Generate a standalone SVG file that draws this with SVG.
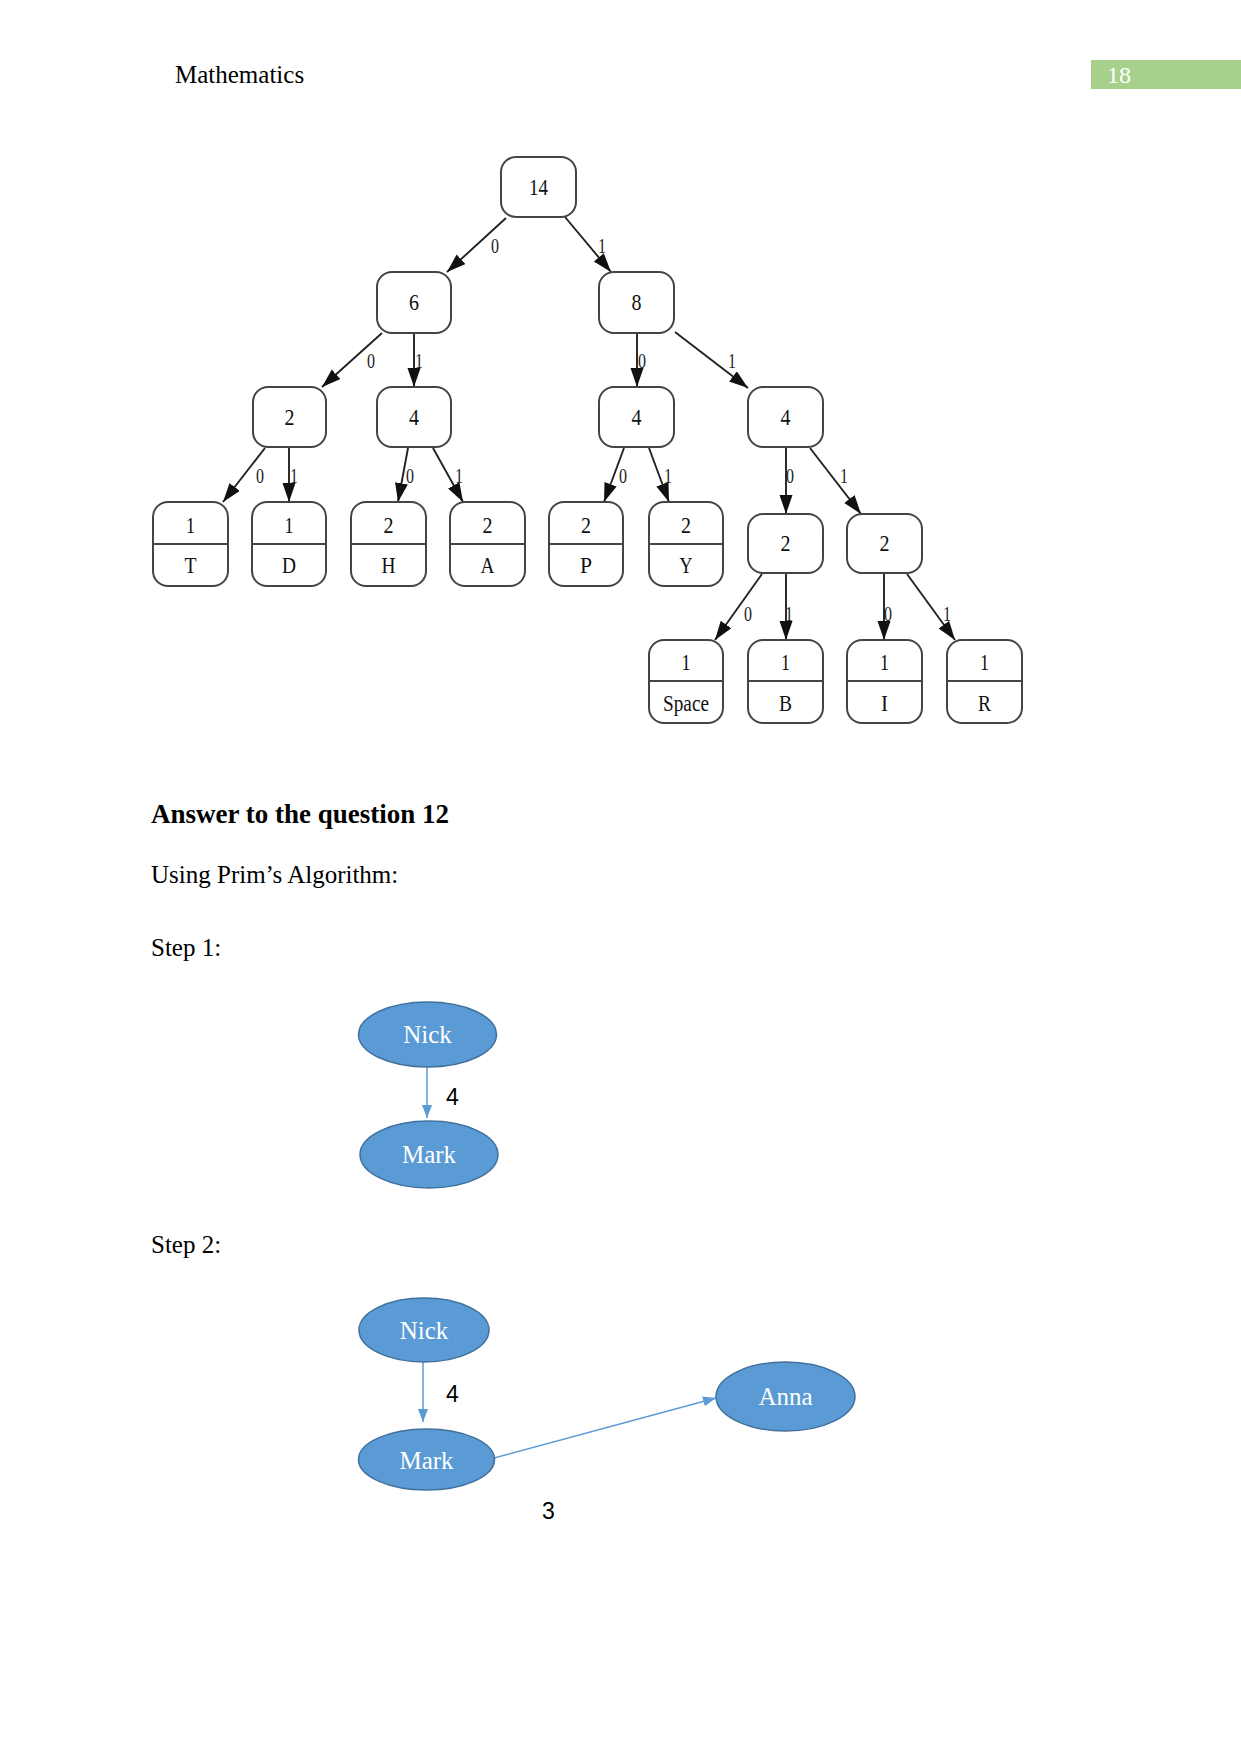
<svg xmlns="http://www.w3.org/2000/svg" width="1241" height="1754" viewBox="0 0 1241 1754">
<defs>
<marker id="ah" markerUnits="userSpaceOnUse" markerWidth="20" markerHeight="14" refX="19" refY="6.5" orient="auto">
<path d="M0,0 L19,6.5 L0,13 z" fill="#111"/>
</marker>
<marker id="bh" markerUnits="userSpaceOnUse" markerWidth="13" markerHeight="11" refX="13" refY="5" orient="auto">
<path d="M0,0 L13,5 L0,10 z" fill="#5B9BD5"/>
</marker>
</defs>
<style>
.bx{fill:#fff;stroke:#444;stroke-width:2}
.dv{stroke:#444;stroke-width:2}
.t{font-family:"Liberation Serif",serif;font-size:23px;fill:#111;text-anchor:middle}
.e{stroke:#222;stroke-width:1.9;fill:none;marker-end:url(#ah)}
.el{font-family:"Liberation Serif",serif;font-size:21px;fill:#222;text-anchor:middle}
.doc{font-family:"Liberation Serif",serif;font-size:25px;fill:#000}
.hd{font-family:"Liberation Serif",serif;font-size:27px;font-weight:bold;fill:#000}
.ov{fill:#5B9BD5;stroke:#41719C;stroke-width:1.5}
.ot{font-family:"Liberation Serif",serif;font-size:25px;fill:#fff;text-anchor:middle}
.be{stroke:#5B9BD5;stroke-width:1.5;fill:none;marker-end:url(#bh)}
.wl{font-family:"Liberation Sans",sans-serif;font-size:23px;fill:#000}
</style>
<rect width="1241" height="1754" fill="#fff"/>

<!-- header -->
<text class="doc" x="175" y="83">Mathematics</text>
<rect x="1091" y="60" width="150" height="29" fill="#A8D08D"/>
<text x="1107" y="83" font-family="Liberation Serif, serif" font-size="24" fill="#fff">18</text>

<!-- Huffman tree -->
<g id="connectors">
<line class="e" x1="506" y1="218" x2="447" y2="272"/>
<line class="e" x1="565" y1="217" x2="611" y2="272"/>
<line class="e" x1="382" y1="333" x2="322" y2="387"/>
<line class="e" x1="414" y1="333" x2="414" y2="387"/>
<line class="e" x1="637" y1="333" x2="637" y2="387"/>
<line class="e" x1="675" y1="332" x2="748" y2="388"/>
<line class="e" x1="265" y1="448" x2="223" y2="502"/>
<line class="e" x1="289" y1="448" x2="289" y2="502"/>
<line class="e" x1="408" y1="448" x2="398" y2="502"/>
<line class="e" x1="433" y1="448" x2="463" y2="502"/>
<line class="e" x1="624" y1="448" x2="604" y2="502"/>
<line class="e" x1="649" y1="448" x2="669" y2="502"/>
<line class="e" x1="786" y1="448" x2="786" y2="514"/>
<line class="e" x1="810" y1="448" x2="861" y2="514"/>
<line class="e" x1="762" y1="574" x2="715" y2="640"/>
<line class="e" x1="786" y1="574" x2="786" y2="640"/>
<line class="e" x1="884" y1="574" x2="884" y2="640"/>
<line class="e" x1="907" y1="574" x2="955" y2="640"/>
<g>
<text class="el" x="495" y="253" textLength="8" lengthAdjust="spacingAndGlyphs">0</text>
<text class="el" x="602" y="253" textLength="8" lengthAdjust="spacingAndGlyphs">1</text>
<text class="el" x="371" y="368" textLength="8" lengthAdjust="spacingAndGlyphs">0</text>
<text class="el" x="419" y="368" textLength="8" lengthAdjust="spacingAndGlyphs">1</text>
<text class="el" x="642" y="368" textLength="8" lengthAdjust="spacingAndGlyphs">0</text>
<text class="el" x="732" y="368" textLength="8" lengthAdjust="spacingAndGlyphs">1</text>
<text class="el" x="260" y="483" textLength="8" lengthAdjust="spacingAndGlyphs">0</text>
<text class="el" x="294" y="483" textLength="8" lengthAdjust="spacingAndGlyphs">1</text>
<text class="el" x="410" y="483" textLength="8" lengthAdjust="spacingAndGlyphs">0</text>
<text class="el" x="459" y="483" textLength="8" lengthAdjust="spacingAndGlyphs">1</text>
<text class="el" x="623" y="483" textLength="8" lengthAdjust="spacingAndGlyphs">0</text>
<text class="el" x="668" y="483" textLength="8" lengthAdjust="spacingAndGlyphs">1</text>
<text class="el" x="790" y="483" textLength="8" lengthAdjust="spacingAndGlyphs">0</text>
<text class="el" x="844" y="483" textLength="8" lengthAdjust="spacingAndGlyphs">1</text>
<text class="el" x="748" y="621" textLength="8" lengthAdjust="spacingAndGlyphs">0</text>
<text class="el" x="789" y="621" textLength="8" lengthAdjust="spacingAndGlyphs">1</text>
<text class="el" x="888" y="621" textLength="8" lengthAdjust="spacingAndGlyphs">0</text>
<text class="el" x="947" y="621" textLength="8" lengthAdjust="spacingAndGlyphs">1</text>
</g>
</g>

<g id="n14"><rect class="bx" x="501" y="157" width="75" height="60" rx="15"/><text class="t" x="538.5" y="195" textLength="19" lengthAdjust="spacingAndGlyphs">14</text></g>
<g id="n6"><rect class="bx" x="377" y="272" width="74" height="61" rx="15"/><text class="t" x="414" y="310" textLength="10" lengthAdjust="spacingAndGlyphs">6</text></g>
<g id="n8"><rect class="bx" x="599" y="272" width="75" height="61" rx="15"/><text class="t" x="636.5" y="310" textLength="10" lengthAdjust="spacingAndGlyphs">8</text></g>
<g id="n2a"><rect class="bx" x="253" y="387" width="73" height="60" rx="15"/><text class="t" x="289.5" y="425" textLength="10" lengthAdjust="spacingAndGlyphs">2</text></g>
<g id="n4a"><rect class="bx" x="377" y="387" width="74" height="60" rx="15"/><text class="t" x="414" y="425" textLength="10" lengthAdjust="spacingAndGlyphs">4</text></g>
<g id="n4b"><rect class="bx" x="599" y="387" width="75" height="60" rx="15"/><text class="t" x="636.5" y="425" textLength="10" lengthAdjust="spacingAndGlyphs">4</text></g>
<g id="n4c"><rect class="bx" x="748" y="387" width="75" height="60" rx="15"/><text class="t" x="785.5" y="425" textLength="10" lengthAdjust="spacingAndGlyphs">4</text></g>

<g id="leafT"><rect class="bx" x="153" y="502" width="75" height="84" rx="15"/><line class="dv" x1="153" y1="544" x2="228" y2="544"/><text class="t" x="190.5" y="533" textLength="9" lengthAdjust="spacingAndGlyphs">1</text><text class="t" x="190.5" y="573" textLength="12" lengthAdjust="spacingAndGlyphs">T</text></g>
<g id="leafD"><rect class="bx" x="252" y="502" width="74" height="84" rx="15"/><line class="dv" x1="252" y1="544" x2="326" y2="544"/><text class="t" x="289" y="533" textLength="9" lengthAdjust="spacingAndGlyphs">1</text><text class="t" x="289" y="573" textLength="14" lengthAdjust="spacingAndGlyphs">D</text></g>
<g id="leafH"><rect class="bx" x="351" y="502" width="75" height="84" rx="15"/><line class="dv" x1="351" y1="544" x2="426" y2="544"/><text class="t" x="388.5" y="533" textLength="10" lengthAdjust="spacingAndGlyphs">2</text><text class="t" x="388.5" y="573" textLength="14" lengthAdjust="spacingAndGlyphs">H</text></g>
<g id="leafA"><rect class="bx" x="450" y="502" width="75" height="84" rx="15"/><line class="dv" x1="450" y1="544" x2="525" y2="544"/><text class="t" x="487.5" y="533" textLength="10" lengthAdjust="spacingAndGlyphs">2</text><text class="t" x="487.5" y="573" textLength="14" lengthAdjust="spacingAndGlyphs">A</text></g>
<g id="leafP"><rect class="bx" x="549" y="502" width="74" height="84" rx="15"/><line class="dv" x1="549" y1="544" x2="623" y2="544"/><text class="t" x="586" y="533" textLength="10" lengthAdjust="spacingAndGlyphs">2</text><text class="t" x="586" y="573" textLength="12" lengthAdjust="spacingAndGlyphs">P</text></g>
<g id="leafY"><rect class="bx" x="649" y="502" width="74" height="84" rx="15"/><line class="dv" x1="649" y1="544" x2="723" y2="544"/><text class="t" x="686" y="533" textLength="10" lengthAdjust="spacingAndGlyphs">2</text><text class="t" x="686" y="573" textLength="13" lengthAdjust="spacingAndGlyphs">Y</text></g>

<g id="n2b"><rect class="bx" x="748" y="514" width="75" height="59" rx="15"/><text class="t" x="785.5" y="551" textLength="10" lengthAdjust="spacingAndGlyphs">2</text></g>
<g id="n2c"><rect class="bx" x="847" y="514" width="75" height="59" rx="15"/><text class="t" x="884.5" y="551" textLength="10" lengthAdjust="spacingAndGlyphs">2</text></g>

<g id="leafSpace"><rect class="bx" x="649" y="640" width="74" height="83" rx="15"/><line class="dv" x1="649" y1="681" x2="723" y2="681"/><text class="t" x="686" y="670" textLength="9" lengthAdjust="spacingAndGlyphs">1</text><text class="t" x="686" y="711" textLength="46" lengthAdjust="spacingAndGlyphs">Space</text></g>
<g id="leafB"><rect class="bx" x="748" y="640" width="75" height="83" rx="15"/><line class="dv" x1="748" y1="681" x2="823" y2="681"/><text class="t" x="785.5" y="670" textLength="9" lengthAdjust="spacingAndGlyphs">1</text><text class="t" x="785.5" y="711" textLength="13" lengthAdjust="spacingAndGlyphs">B</text></g>
<g id="leafI"><rect class="bx" x="847" y="640" width="75" height="83" rx="15"/><line class="dv" x1="847" y1="681" x2="922" y2="681"/><text class="t" x="884.5" y="670" textLength="9" lengthAdjust="spacingAndGlyphs">1</text><text class="t" x="884.5" y="711" textLength="7" lengthAdjust="spacingAndGlyphs">I</text></g>
<g id="leafR"><rect class="bx" x="947" y="640" width="75" height="83" rx="15"/><line class="dv" x1="947" y1="681" x2="1022" y2="681"/><text class="t" x="984.5" y="670" textLength="9" lengthAdjust="spacingAndGlyphs">1</text><text class="t" x="984.5" y="711" textLength="13" lengthAdjust="spacingAndGlyphs">R</text></g>

<!-- text -->
<text class="hd" x="151" y="823">Answer to the question 12</text>
<text class="doc" x="151" y="883">Using Prim’s Algorithm:</text>
<text class="doc" x="151" y="956">Step 1:</text>
<text class="doc" x="151" y="1253">Step 2:</text>

<!-- Step 1 -->
<g id="s1-connectors">
<line class="be" x1="427" y1="1067" x2="427" y2="1118"/>
<text class="wl" x="446" y="1105">4</text>
</g>
<g id="s1-nick"><ellipse class="ov" cx="427.5" cy="1034.5" rx="69" ry="32.5"/><text class="ot" x="427.5" y="1043">Nick</text></g>
<g id="s1-mark"><ellipse class="ov" cx="429" cy="1154.5" rx="69" ry="33.5"/><text class="ot" x="429" y="1163">Mark</text></g>

<!-- Step 2 -->
<g id="s2-connectors">
<line class="be" x1="423" y1="1362" x2="423" y2="1422"/>
<line class="be" x1="494" y1="1458" x2="716" y2="1398"/>
<text class="wl" x="446" y="1402">4</text>
<text class="wl" x="542" y="1519">3</text>
</g>
<g id="s2-nick"><ellipse class="ov" cx="424" cy="1330" rx="65" ry="32"/><text class="ot" x="424" y="1339">Nick</text></g>
<g id="s2-mark"><ellipse class="ov" cx="426.5" cy="1459.5" rx="68" ry="30.5"/><text class="ot" x="426.5" y="1469">Mark</text></g>
<g id="s2-anna"><ellipse class="ov" cx="785.5" cy="1396.5" rx="69.5" ry="34.5"/><text class="ot" x="785.5" y="1405">Anna</text></g>
</svg>
